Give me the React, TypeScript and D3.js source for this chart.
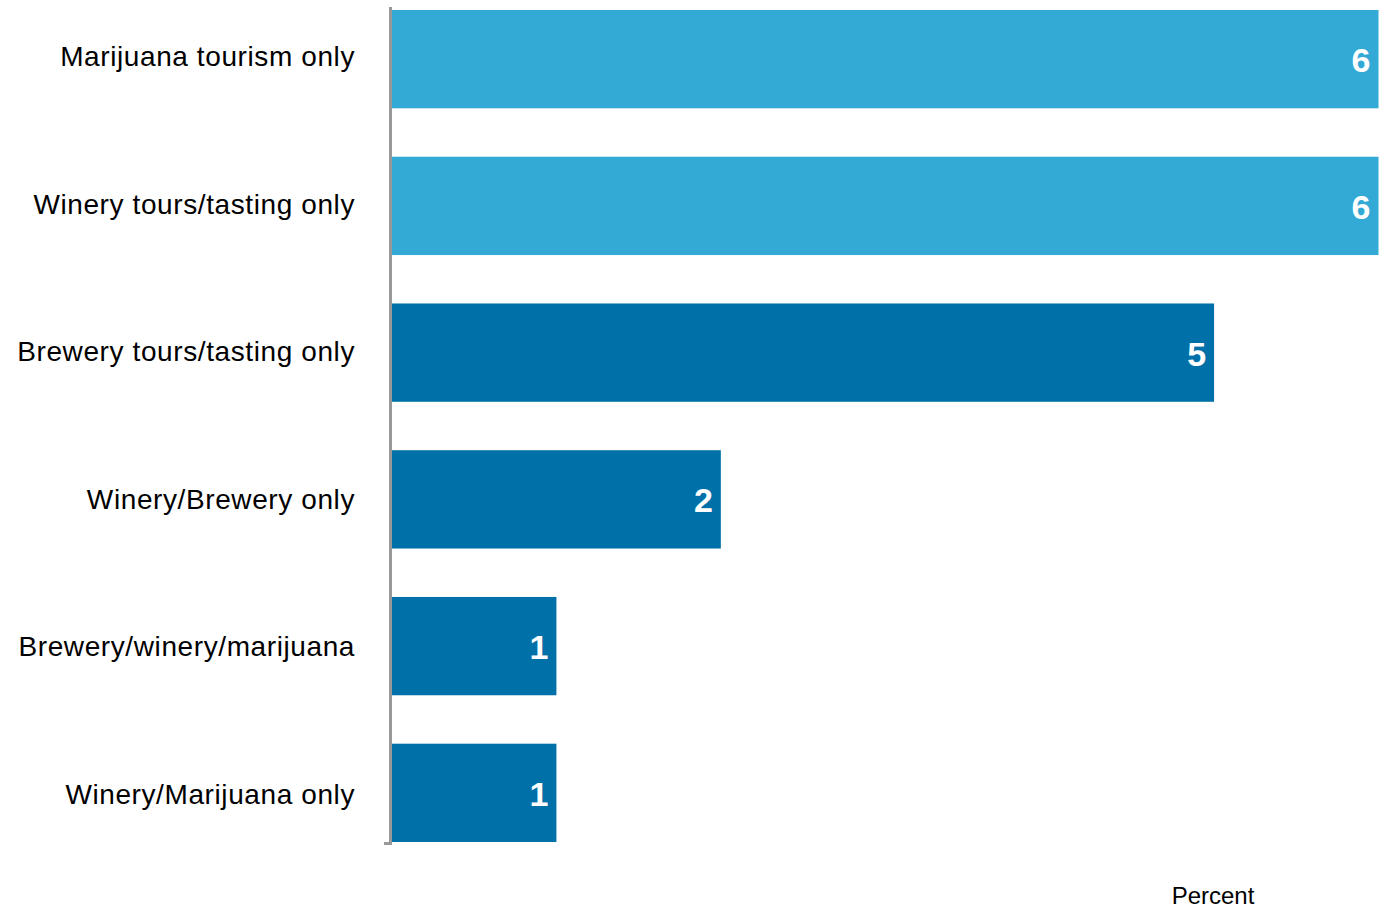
import React from "react";
import * as d3 from "d3";

const categories = [
  "Marijuana tourism only",
  "Winery tours/tasting only",
  "Brewery tours/tasting only",
  "Winery/Brewery only",
  "Brewery/winery/marijuana",
  "Winery/Marijuana only",
];
const values = [6, 6, 5, 2, 1, 1];
const highlighted = [true, true, false, false, false, false];
const axisTitle = "Percent";

const W = 1379;
const H = 910;
const LIGHT = "#33a9d6";
const DARK = "#0070a8";

export default function App() {
  const x = d3.scaleLinear().domain([0, 6]).range([392, 1378.5]);
  const y = d3.scaleBand<string>().domain(categories).range([10, 842]).paddingInner(0.33).paddingOuter(0);
  const labelY = d3.scalePoint<string>().domain(categories).range([66, 803.5]);
  const font = "Helvetica, 'Liberation Sans', Arial, sans-serif";
  return (
    <svg width={W} height={H} style={{ position: "absolute", left: 0, top: 0, background: "#fff" }} fontFamily={font}>
      {categories.map((c, i) => {
        const yy = y(c)!;
        const bw = y.bandwidth();
        return (
          <g key={c}>
            <rect x={x(0)} y={yy} width={x(values[i]) - x(0)} height={bw} fill={highlighted[i] ? LIGHT : DARK} />
            <text x={355} y={labelY(c)!} textAnchor="end" fontSize={28} letterSpacing={0.6} fill="#000">
              {c}
            </text>
            <text x={x(values[i]) - 8} y={yy + bw / 2} dy="0.38em" textAnchor="end" fontSize={34} fontWeight="bold" fill="#fff">
              {values[i]}
            </text>
          </g>
        );
      })}
      <line x1={390.5} x2={390.5} y1={7} y2={845} stroke="#999" strokeWidth={3} />
      <line x1={384} x2={392} y1={843.5} y2={843.5} stroke="#999" strokeWidth={3} />
      <text x={1213} y={904} textAnchor="middle" fontSize={24} fill="#000">
        {axisTitle}
      </text>
    </svg>
  );
}
